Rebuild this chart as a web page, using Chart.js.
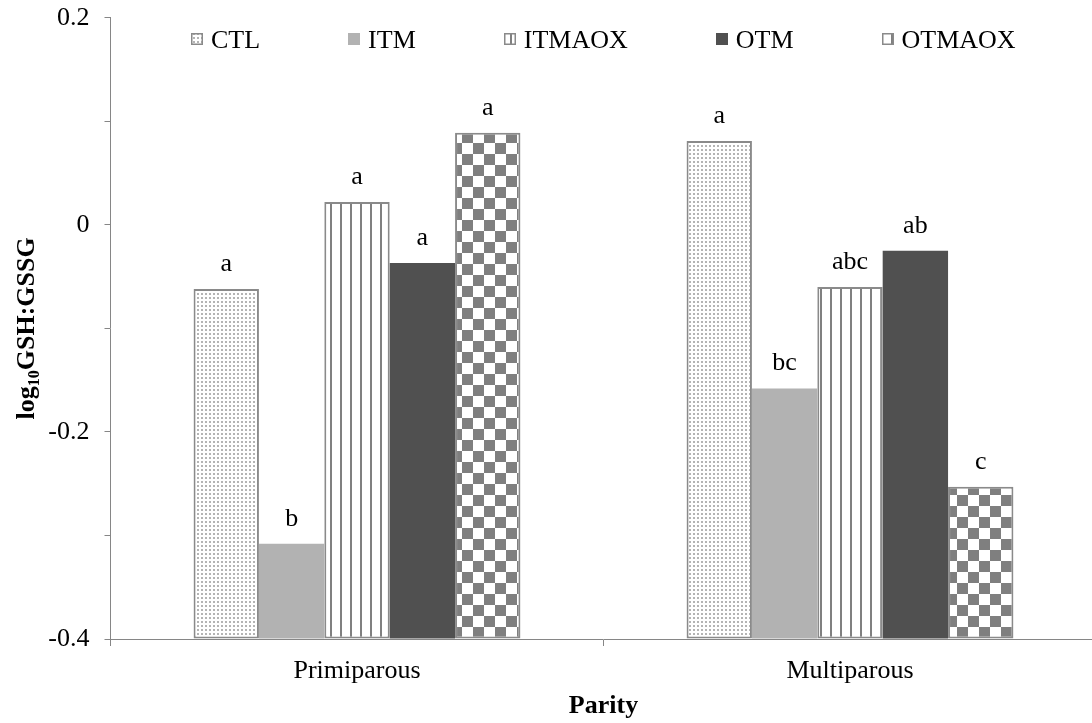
<!DOCTYPE html>
<html>
<head>
<meta charset="utf-8">
<script src="https://cdn.jsdelivr.net/npm/chart.js@4.4.1/dist/chart.umd.min.js"></script>
<style>
  html, body { margin: 0; padding: 0; background: #fff; overflow: hidden; }
  #wrap { position: absolute; left: 0; top: 0; width: 1097px; height: 723px; }
</style>
</head>
<body>
<div id="wrap"><canvas id="parityChart" width="1097" height="723"></canvas></div>
<script>
// Data
const categories = ['Primiparous', 'Multiparous'];
const seriesNames = ['CTL', 'ITM', 'ITMAOX', 'OTM', 'OTMAOX'];
const ctlValues = [-0.062, 0.081];
const itmValues = [-0.308, -0.158];
const itmaoxValues = [0.022, -0.060];
const otmValues = [-0.037, -0.025];
const otmaoxValues = [0.089, -0.253];

// significance letters above each bar
const ctlLetters = ['a', 'a'];
const itmLetters = ['b', 'bc'];
const itmaoxLetters = ['a', 'abc'];
const otmLetters = ['a', 'ab'];
const otmaoxLetters = ['a', 'c'];

const yMin = -0.4;
const yMax = 0.2;
const yStep = 0.1;
const yTickLabels = ['-0.4', '-0.2', '0', '0.2'];

const FONT = "'Liberation Serif', 'Times New Roman', serif";
const AXIS_GREY = '#868686';

const canvas = document.getElementById('parityChart');
const ctx = canvas.getContext('2d');

// Fill patterns
function makePattern(w, h, draw) {
    const c = document.createElement('canvas');
    c.width = w;
    c.height = h;
    const g = c.getContext('2d');
    g.fillStyle = '#ffffff';
    g.fillRect(0, 0, w, h);
    draw(g);
    return ctx.createPattern(c, 'repeat');
}

const dotsPattern = makePattern(4, 4, g => {
    g.fillStyle = '#b4b4b4';
    g.fillRect(1, 1, 2, 2);
});
const stripesPattern = makePattern(10, 10, g => {
    g.fillStyle = '#808080';
    g.fillRect(0, 0, 2, 10);
});
const checkPattern = makePattern(22, 22, g => {
    g.fillStyle = '#7f7f7f';
    g.fillRect(0, 0, 11, 11);
    g.fillRect(11, 11, 11, 11);
});

const lettersByDataset = [ctlLetters, itmLetters, itmaoxLetters, otmLetters, otmaoxLetters];

// letters above bars
const letterPlugin = {
    id: 'letters',
    afterDatasetsDraw(chart) {
        const c = chart.ctx;
        c.save();
        c.font = '26px ' + FONT;
        c.fillStyle = '#000';
        c.textAlign = 'center';
        c.textBaseline = 'alphabetic';
        chart.data.datasets.forEach((ds, i) => {
            chart.getDatasetMeta(i).data.forEach((bar, j) => {
                c.fillText(lettersByDataset[i][j], bar.x, bar.y - 18);
            });
        });
        c.restore();
    }
};

// y title with subscript
const yTitlePlugin = {
    id: 'yTitle',
    afterDraw(chart) {
        const c = chart.ctx;
        const area = chart.chartArea;
        const parts = [
            { t: 'log', f: 'bold 26px ' + FONT, dy: 0 },
            { t: '10', f: 'bold 16px ' + FONT, dy: 5 },
            { t: 'GSH:GSSG', f: 'bold 26px ' + FONT, dy: 0 }
        ];
        let total = 0;
        parts.forEach(p => { c.font = p.f; p.w = c.measureText(p.t).width; total += p.w; });
        c.save();
        c.translate(34, (area.top + area.bottom) / 2);
        c.rotate(-Math.PI / 2);
        c.fillStyle = '#000';
        c.textBaseline = 'alphabetic';
        c.textAlign = 'left';
        let x = -total / 2;
        parts.forEach(p => {
            c.font = p.f;
            c.fillText(p.t, x, p.dy);
            x += p.w;
        });
        c.restore();
    }
};

// legend drawn inside the plot area
const legendPlugin = {
    id: 'innerLegend',
    afterDraw(chart) {
        const c = chart.ctx;
        const area = chart.chartArea;
        const box = 12, gap = 8, spacing = 88;
        c.save();
        c.font = '26px ' + FONT;
        const widths = chart.data.datasets.map(ds => c.measureText(ds.label).width);
        const total = widths.reduce((a, w) => a + box + gap + w, 0) + spacing * (widths.length - 1);
        let x = Math.round((area.left + area.right) / 2 - total / 2);
        chart.data.datasets.forEach((ds, i) => {
            const bx = Math.round(x);
            c.fillStyle = ds.backgroundColor;
            c.fillRect(bx, 33, box, box);
            if (ds.borderWidth) {
                c.strokeStyle = ds.borderColor;
                c.lineWidth = 1.5;
                c.strokeRect(bx + 0.75, 33.75, box - 1.5, box - 1.5);
            }
            c.fillStyle = '#000';
            c.textBaseline = 'alphabetic';
            c.fillText(ds.label, x + box + gap, 47.5);
            x += box + gap + widths[i] + spacing;
        });
        c.restore();
    }
};

function barSet(label, data, fill, border) {
    return {
        label: label,
        data: data,
        base: yMin,
        backgroundColor: fill,
        borderColor: border || fill,
        borderWidth: border ? 2 : 0,
        borderSkipped: false,
        categoryPercentage: 0.663,
        barPercentage: 1.0
    };
}

const parityChart = new Chart(ctx, {
    type: 'bar',
    data: {
        labels: categories,
        datasets: [
            barSet(seriesNames[0], ctlValues, dotsPattern, '#8a8a8a'),
            barSet(seriesNames[1], itmValues, '#b2b2b2'),
            barSet(seriesNames[2], itmaoxValues, stripesPattern, '#8a8a8a'),
            barSet(seriesNames[3], otmValues, '#505050'),
            barSet(seriesNames[4], otmaoxValues, checkPattern, '#8a8a8a')
        ]
    },
    options: {
        responsive: false,
        animation: false,
        devicePixelRatio: 1,
        layout: { padding: { top: 17.7, right: 0.5, bottom: 0, left: 0 } },
        plugins: {
            legend: { display: false },
            tooltip: { enabled: false }
        },
        scales: {
            x: {
                grid: { drawOnChartArea: false, drawTicks: true, tickLength: 7, color: AXIS_GREY, offset: true },
                border: { color: AXIS_GREY, width: 1 },
                ticks: { color: '#000', font: { family: FONT, size: 26 }, padding: 10, maxRotation: 0 },
                title: {
                    display: true,
                    text: 'Parity',
                    color: '#000',
                    font: { family: FONT, size: 26, weight: 'bold' },
                    padding: { top: 0, bottom: 1 }
                },
                afterFit: s => {
                    s.height = 84;
                    s.paddingLeft = 0;
                    s.paddingRight = 0;
                }
            },
            y: {
                min: yMin,
                max: yMax,
                ticks: {
                    stepSize: yStep,
                    color: '#000',
                    font: { family: FONT, size: 26 },
                    padding: 15,
                    callback: v => {
                        const s = String(Math.round(v * 10) / 10);
                        return yTickLabels.includes(s) ? s : '';
                    }
                },
                grid: { drawOnChartArea: false, drawTicks: true, tickLength: 6, color: AXIS_GREY },
                border: { color: AXIS_GREY, width: 1 },
                afterFit: s => {
                    s.width = 110.5;
                    s.paddingTop = 0;
                    s.paddingBottom = 0;
                }
            }
        }
    },
    plugins: [letterPlugin, yTitlePlugin, legendPlugin]
});
</script>
</body>
</html>
